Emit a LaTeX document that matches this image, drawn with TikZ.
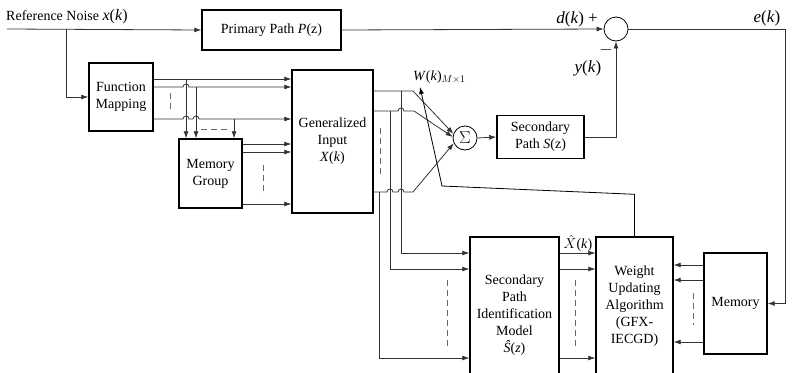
\documentclass[tikz,border=0pt]{standalone}
\usepackage{fontspec}
\setmainfont{Liberation Serif}
\usetikzlibrary{arrows.meta, positioning}
\tikzstyle{block} = [rectangle, draw=black, line width=1.4pt, align=center, inner sep=0pt, font=\fontsize{14}{17}\selectfont]
\tikzstyle{junction} = [circle, draw=black, line width=0.8pt, minimum size=24pt, inner sep=0pt, font=\fontsize{16}{17}\selectfont]
\tikzstyle{label} = [inner sep=1pt, font=\fontsize{14}{17}\selectfont]
\tikzstyle{siglabel} = [inner sep=1pt, font=\fontsize{17}{19}\selectfont]
\tikzstyle{arrow} = [line width=0.8pt, draw=black!80, -{Latex[length=7pt,width=5pt]}]
\tikzstyle{wire} = [line width=0.8pt, draw=black!80]
\tikzstyle{gap} = [line width=0.8pt, draw=black!60, dash pattern=on 6pt off 4pt]

\begin{document}
\begin{tikzpicture}[x=1pt, y=-1pt]

    \useasboundingbox (0,0) rectangle (799,372);
    \clip (0,0) rectangle (799,372);

    \node (primary) [block, minimum width=139pt, minimum height=40pt] at (271.5,30) {Primary Path \textit{P}(z)};
    \node (errsum) [junction] at (616,29) {};
    \node (fmap) [block, minimum width=64pt, minimum height=68pt] at (121,97) {Function\\Mapping};
    \node (memgrp) [block, minimum width=63pt, minimum height=69pt] at (210.5,173.5) {Memory\\Group};
    \node (geninput) [block, minimum width=81pt, minimum height=143pt] at (332.5,141.5) {Generalized\\Input\\\textit{X}(\textit{k})};
    \node (wsum) [junction] at (465,138) {$\Sigma$};
    \node (secpath) [block, minimum width=87pt, minimum height=43pt] at (540.5,137) {Secondary\\Path \textit{S}(z)};
    \node (secid) [block, minimum width=89pt, minimum height=156pt] at (514.5,315) {Secondary\\Path\\Identification\\Model\\\textit{\^S}(\textit{z})};
    \node (wupdate) [block, minimum width=77pt, minimum height=138pt] at (634.5,306) {Weight\\Updating\\Algorithm\\(GFX-\\IECGD)};
    \node (memory) [block, minimum width=63pt, minimum height=101pt] at (735.5,303.5) {Memory};

    \node (reflabel) [label, anchor=west] at (5,17) {Reference Noise {\fontsize{16}{17}\selectfont\textit{x}(\textit{k})}};
    \node (dlabel) [siglabel, anchor=east] at (599,19) {\textit{d}(\textit{k}) +};
    \node (elabel) [siglabel] at (767,18) {\textit{e}(\textit{k})};
    \node (minus) [siglabel] at (606,50) {$-$};
    \node (ylabel) [siglabel] at (588,68) {\textit{y}(\textit{k})};
    \node (wlabel) [label, anchor=west] at (412,77) {\textit{W}(\textit{k})$_{M\times1}$};
    \node (xhlabel) [label, anchor=south] at (578,253) {$\hat{X}$(\textit{k})};

    \coordinate (in) at (7,29);
    \coordinate (branch) at (66,29);
    \coordinate (eright) at (785,29);

    % main path
    \draw [arrow] (in) -- (primary.west);
    \draw [arrow] (primary.east) -- (errsum.west);
    \draw [wire] (errsum.east) -- (eright);
    \draw [arrow] (eright) |- (memory.east);
    \draw [arrow] (branch) |- (fmap.west);

    % function mapping to generalized input
    \draw [arrow] (fmap.east |- 0,79) -- (geninput.west |- 0,79);
    \draw [arrow] (fmap.east |- 0,87) -- (183,87) arc[start angle=180, end angle=360, radius=3] -- (geninput.west |- 0,87);
    \draw [arrow] (fmap.east |- 0,119) -- (183,119) arc[start angle=180, end angle=360, radius=3]
        -- (193,119) arc[start angle=180, end angle=360, radius=3] -- (geninput.west |- 0,119);
    \draw [arrow] (186,79) -- (memgrp.north -| 186,0);
    \draw [arrow] (196,87) -- (memgrp.north -| 196,0);
    \draw [arrow] (234,119) -- (memgrp.north -| 234,0);
    \draw [gap] (170,93) -- (170,113);
    \draw [gap] (201,129) -- (230,129);

    % memory group to generalized input
    \draw [arrow] (memgrp.east |- 0,144) -- (geninput.west |- 0,144);
    \draw [arrow] (memgrp.east |- 0,152) -- (geninput.west |- 0,152);
    \draw [arrow] (memgrp.east |- 0,204) -- (geninput.west |- 0,204);
    \draw [gap] (263,165) -- (263,195);

    % generalized input to the weighted sum
    \draw [arrow] (geninput.east |- 0,91) -- (413,91) -- (wsum.160);
    \draw [arrow] (geninput.east |- 0,111) -- (398,111) arc[start angle=180, end angle=360, radius=3] -- (414,111) -- (wsum.175);
    \draw [arrow] (geninput.east |- 0,192) -- (387,192) arc[start angle=180, end angle=360, radius=3]
        -- (398,192) arc[start angle=180, end angle=360, radius=3] -- (413,192) -- (wsum.205);
    \draw [gap] (380,128) -- (380,178);

    % generalized input to secondary path identification
    \draw [arrow] (401,91) |- (secid.west |- 0,253);
    \draw [arrow] (390,111) |- (secid.west |- 0,269);
    \draw [arrow] (379,192) |- (secid.west |- 0,358);
    \draw [gap] (447,280) -- (447,350);

    % secondary path
    \draw [arrow] (wsum.east) -- (secpath.west);
    \draw [arrow] (secpath.east) -| (errsum.south);

    % identification model to weight updating
    \draw [arrow] (secid.east |- 0,253) -- (wupdate.west |- 0,253);
    \draw [arrow] (secid.east |- 0,269) -- (wupdate.west |- 0,269);
    \draw [arrow] (secid.east |- 0,358) -- (wupdate.west |- 0,358);
    \draw [gap] (575,280) -- (575,350);

    % memory to weight updating
    \draw [arrow] (memory.west |- 0,265) -- (wupdate.east |- 0,265);
    \draw [arrow] (memory.west |- 0,280) -- (wupdate.east |- 0,280);
    \draw [arrow] (memory.west |- 0,342) -- (wupdate.east |- 0,342);
    \draw [gap] (693,293) -- (693,325);

    % weight adjustment
    \draw [arrow, draw=black] (wupdate.north) -- ++(0,-42) -- (442,186) -- (420,87);

\end{tikzpicture}
\end{document}
